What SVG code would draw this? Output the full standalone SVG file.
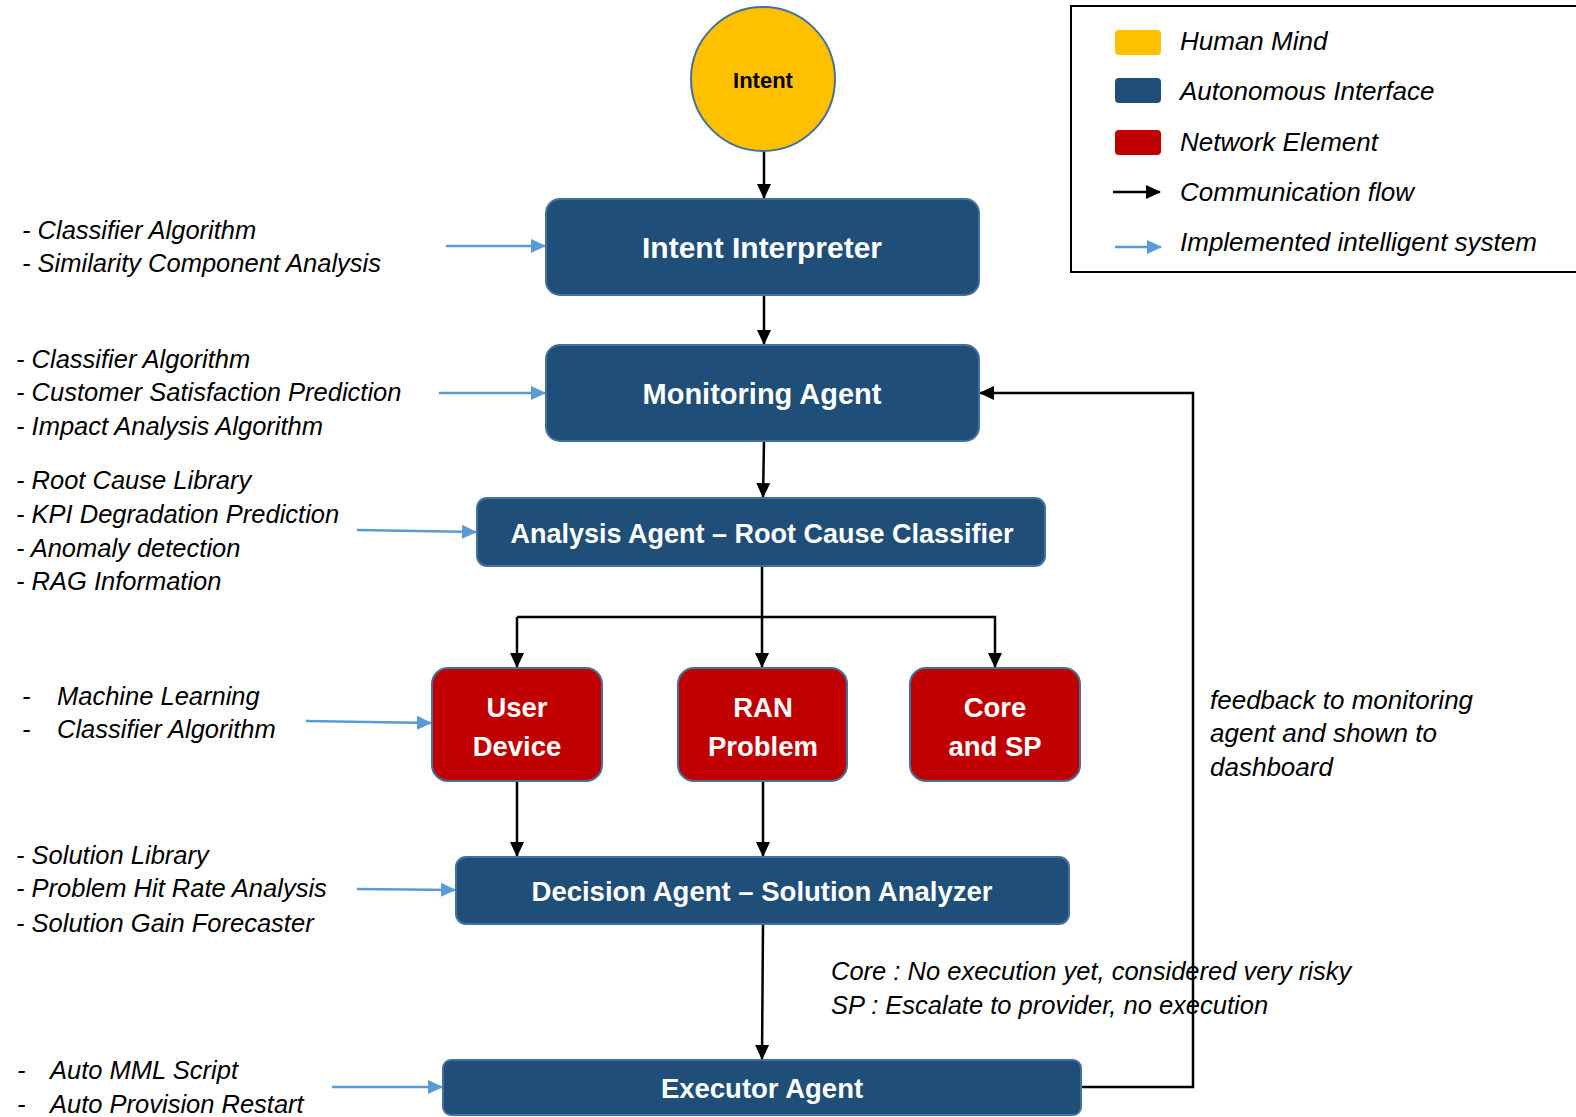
<svg xmlns="http://www.w3.org/2000/svg" width="1576" height="1117" viewBox="0 0 1576 1117">
<style>
.blue{fill:#1F4E79;stroke:#41719C;stroke-width:2}
.red{fill:#C00000;stroke:#41719C;stroke-width:2}
.bt{font-family:"Liberation Sans",Arial,sans-serif;font-weight:bold;font-size:27.5px;fill:#fff;text-anchor:middle}
.it{font-family:"Liberation Sans",Arial,sans-serif;font-style:italic;font-size:25.5px;fill:#000}
.lg{font-size:26px}
.c{fill:none;stroke:#000;stroke-width:2.5}
.b{fill:none;stroke:#5B9BD5;stroke-width:2.5}
</style>
<defs>
<marker id="ak" markerUnits="userSpaceOnUse" markerWidth="16" markerHeight="16" refX="14" refY="8" orient="auto"><path d="M0,1 L15,8 L0,15 Z" fill="#000"/></marker>
<marker id="ab" markerUnits="userSpaceOnUse" markerWidth="16" markerHeight="16" refX="14" refY="8" orient="auto"><path d="M0,1 L15,8 L0,15 Z" fill="#5B9BD5"/></marker>
</defs>
<rect width="1576" height="1117" fill="#fff"/>

<g id="connectors">
<line class="c" x1="764" y1="152" x2="764" y2="198" marker-end="url(#ak)"/>
<line class="c" x1="764" y1="295" x2="764" y2="344" marker-end="url(#ak)"/>
<line class="c" x1="764" y1="441" x2="763" y2="497" marker-end="url(#ak)"/>
<line class="c" x1="762" y1="566" x2="762" y2="667" marker-end="url(#ak)"/>
<polyline class="c" points="517,617 995,617 995,667" marker-end="url(#ak)"/>
<line class="c" x1="517" y1="617" x2="517" y2="667" marker-end="url(#ak)"/>
<line class="c" x1="517" y1="781" x2="517" y2="856" marker-end="url(#ak)"/>
<line class="c" x1="763" y1="781" x2="763" y2="856" marker-end="url(#ak)"/>
<line class="c" x1="763" y1="924" x2="762" y2="1059" marker-end="url(#ak)"/>
<polyline class="c" points="1081,1087 1193,1087 1193,393 980,393" marker-end="url(#ak)"/>
<line class="b" x1="446" y1="246" x2="545" y2="246" marker-end="url(#ab)"/>
<line class="b" x1="439" y1="393" x2="545" y2="393" marker-end="url(#ab)"/>
<line class="b" x1="357" y1="530" x2="476" y2="532" marker-end="url(#ab)"/>
<line class="b" x1="306" y1="721" x2="431" y2="723" marker-end="url(#ab)"/>
<line class="b" x1="357" y1="889" x2="455" y2="890" marker-end="url(#ab)"/>
<line class="b" x1="332" y1="1087" x2="442" y2="1087" marker-end="url(#ab)"/>
</g>

<g id="intent">
<circle cx="763" cy="79" r="72" fill="#FFC000" stroke="#41719C" stroke-width="2"/>
<text x="763" y="88" font-family="Liberation Sans,Arial,sans-serif" font-weight="bold" font-size="22" text-anchor="middle" fill="#000">Intent</text>
</g>
<g id="intent-interpreter">
<rect class="blue" x="546" y="199" width="433" height="96" rx="14"/>
<text class="bt" x="762" y="258" style="font-size:30px">Intent Interpreter</text>
</g>
<g id="monitoring-agent">
<rect class="blue" x="546" y="345" width="433" height="96" rx="14"/>
<text class="bt" x="762" y="404" style="font-size:29px">Monitoring Agent</text>
</g>
<g id="analysis-agent">
<rect class="blue" x="477" y="498" width="568" height="68" rx="10"/>
<text class="bt" x="762" y="543" style="font-size:27px">Analysis Agent – Root Cause Classifier</text>
</g>
<g id="user-device">
<rect class="red" x="432" y="668" width="170" height="113" rx="16"/>
<text class="bt" x="517" y="717">User</text>
<text class="bt" x="517" y="756">Device</text>
</g>
<g id="ran-problem">
<rect class="red" x="678" y="668" width="169" height="113" rx="16"/>
<text class="bt" x="763" y="717">RAN</text>
<text class="bt" x="763" y="756">Problem</text>
</g>
<g id="core-sp">
<rect class="red" x="910" y="668" width="170" height="113" rx="16"/>
<text class="bt" x="995" y="717">Core</text>
<text class="bt" x="995" y="756">and SP</text>
</g>
<g id="decision-agent">
<rect class="blue" x="456" y="857" width="613" height="67" rx="10"/>
<text class="bt" x="762" y="901">Decision Agent – Solution Analyzer</text>
</g>
<g id="executor-agent">
<rect class="blue" x="443" y="1060" width="638" height="55" rx="8"/>
<text class="bt" x="762" y="1098">Executor Agent</text>
</g>

<g id="labels">
<text class="it" x="22" y="239">- Classifier Algorithm</text>
<text class="it" x="22" y="272">- Similarity Component Analysis</text>
<text class="it" x="16" y="368">- Classifier Algorithm</text>
<text class="it" x="16" y="401">- Customer Satisfaction Prediction</text>
<text class="it" x="16" y="435">- Impact Analysis Algorithm</text>
<text class="it" x="16" y="489">- Root Cause Library</text>
<text class="it" x="16" y="523">- KPI Degradation Prediction</text>
<text class="it" x="16" y="557">- Anomaly detection</text>
<text class="it" x="16" y="590">- RAG Information</text>
<text class="it" x="22" y="705">-</text><text class="it" x="57" y="705">Machine Learning</text>
<text class="it" x="22" y="738">-</text><text class="it" x="57" y="738">Classifier Algorithm</text>
<text class="it" x="16" y="864">- Solution Library</text>
<text class="it" x="16" y="897">- Problem Hit Rate Analysis</text>
<text class="it" x="16" y="932">- Solution Gain Forecaster</text>
<text class="it" x="17" y="1079">-</text><text class="it" x="50" y="1079">Auto MML Script</text>
<text class="it" x="17" y="1113">-</text><text class="it" x="50" y="1113">Auto Provision Restart</text>
<text class="it lg" x="1210" y="709">feedback to monitoring</text>
<text class="it lg" x="1210" y="742">agent and shown to</text>
<text class="it lg" x="1210" y="776">dashboard</text>
<text class="it" x="831" y="980">Core : No execution yet, considered very risky</text>
<text class="it" x="831" y="1014">SP : Escalate to provider, no execution</text>
</g>

<g id="legend">
<rect x="1071" y="6" width="520" height="266" fill="none" stroke="#000" stroke-width="2"/>
<rect x="1115" y="30" width="46" height="25" rx="4" fill="#FFC000"/>
<rect x="1115" y="78" width="46" height="25" rx="4" fill="#1F4E79"/>
<rect x="1115" y="130" width="46" height="25" rx="4" fill="#C00000"/>
<line class="c" x1="1113" y1="192" x2="1160" y2="192" marker-end="url(#ak)"/>
<line class="b" x1="1115" y1="247" x2="1161" y2="247" marker-end="url(#ab)"/>
<text class="it lg" x="1180" y="50">Human Mind</text>
<text class="it lg" x="1180" y="100">Autonomous Interface</text>
<text class="it lg" x="1180" y="151">Network Element</text>
<text class="it lg" x="1180" y="201">Communication flow</text>
<text class="it lg" x="1180" y="251">Implemented intelligent system</text>
</g>
</svg>
